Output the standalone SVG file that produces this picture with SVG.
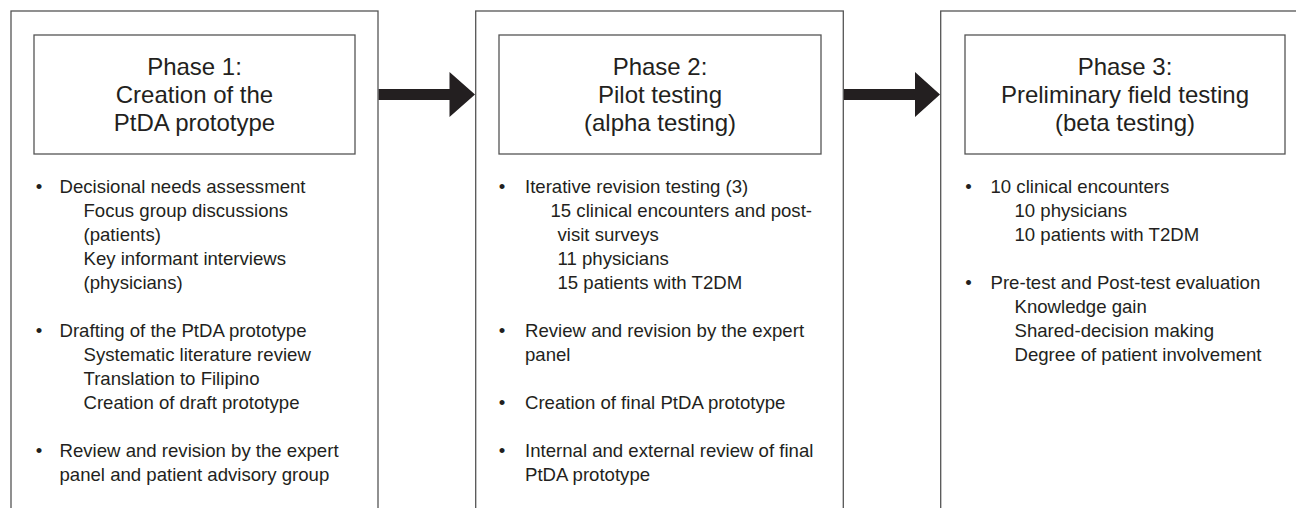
<svg xmlns="http://www.w3.org/2000/svg" width="1296" height="508" viewBox="0 0 1296 508">
<style>
  .outer{fill:none;stroke:#555;stroke-width:1.3}
  .inner{fill:#fff;stroke:#555;stroke-width:1.3}
  .title{font-family:"Liberation Sans",Arial,sans-serif;font-size:24px;fill:#231f20;text-anchor:middle}
  .body{font-family:"Liberation Sans",Arial,sans-serif;font-size:18.6px;fill:#231f20}
  .bul{text-anchor:middle}
  .arrow{fill:#231f20}
</style>
<rect width="1296" height="508" fill="#fff"/>
<g id="phase1">
  <rect class="outer" x="11" y="11" width="367" height="520"/>
  <rect class="inner" x="34" y="35" width="321" height="119"/>
  <text class="title" x="194.5" y="75">Phase 1:</text>
  <text class="title" x="194.5" y="103">Creation of the</text>
  <text class="title" x="194.5" y="131">PtDA prototype</text>
  <text class="body bul" x="39" y="193">•</text>
  <text class="body" x="59.5" y="193">Decisional needs assessment</text>
  <text class="body" x="83.5" y="217">Focus group discussions</text>
  <text class="body" x="83.5" y="241">(patients)</text>
  <text class="body" x="83.5" y="265">Key informant interviews</text>
  <text class="body" x="83.5" y="289">(physicians)</text>
  <text class="body bul" x="39" y="337">•</text>
  <text class="body" x="59.5" y="337">Drafting of the PtDA prototype</text>
  <text class="body" x="83.5" y="361">Systematic literature review</text>
  <text class="body" x="83.5" y="385">Translation to Filipino</text>
  <text class="body" x="83.5" y="409">Creation of draft prototype</text>
  <text class="body bul" x="39" y="457">•</text>
  <text class="body" x="59.5" y="457">Review and revision by the expert</text>
  <text class="body" x="59.5" y="481">panel and patient advisory group</text>
</g>
<g id="phase2">
  <rect class="outer" x="475.7" y="11" width="367.6" height="520"/>
  <rect class="inner" x="499" y="35" width="322" height="119"/>
  <text class="title" x="660" y="75">Phase 2:</text>
  <text class="title" x="660" y="103">Pilot testing</text>
  <text class="title" x="660" y="131">(alpha testing)</text>
  <text class="body bul" x="502" y="193">•</text>
  <text class="body" x="525" y="193">Iterative revision testing (3)</text>
  <text class="body" x="550.5" y="217">15 clinical encounters and post-</text>
  <text class="body" x="557.5" y="241">visit surveys</text>
  <text class="body" x="557.5" y="265">11 physicians</text>
  <text class="body" x="557.5" y="289">15 patients with T2DM</text>
  <text class="body bul" x="502" y="337">•</text>
  <text class="body" x="525" y="337">Review and revision by the expert</text>
  <text class="body" x="525" y="361">panel</text>
  <text class="body bul" x="502" y="409">•</text>
  <text class="body" x="525" y="409">Creation of final PtDA prototype</text>
  <text class="body bul" x="502" y="457">•</text>
  <text class="body" x="525" y="457">Internal and external review of final</text>
  <text class="body" x="525" y="481">PtDA prototype</text>
</g>
<g id="phase3">
  <rect class="outer" x="940.7" y="11" width="400" height="520"/>
  <rect class="inner" x="965" y="35" width="320" height="119"/>
  <text class="title" x="1125" y="75">Phase 3:</text>
  <text class="title" x="1125" y="103">Preliminary field testing</text>
  <text class="title" x="1125" y="131">(beta testing)</text>
  <text class="body bul" x="968.5" y="193">•</text>
  <text class="body" x="990.5" y="193">10 clinical encounters</text>
  <text class="body" x="1014.5" y="217">10 physicians</text>
  <text class="body" x="1014.5" y="241">10 patients with T2DM</text>
  <text class="body bul" x="968.5" y="289">•</text>
  <text class="body" x="990.5" y="289">Pre-test and Post-test evaluation</text>
  <text class="body" x="1014.5" y="313">Knowledge gain</text>
  <text class="body" x="1014.5" y="337">Shared-decision making</text>
  <text class="body" x="1014.5" y="361">Degree of patient involvement</text>
</g>
<g id="connectors">
  <path class="arrow" d="M378.6,89 H449.5 V72 L475,94.5 L449.5,117 V100 H378.6 Z"/>
  <path class="arrow" d="M844,89 H915 V72 L940,94.5 L915,117 V100 H844 Z"/>
</g>
</svg>
